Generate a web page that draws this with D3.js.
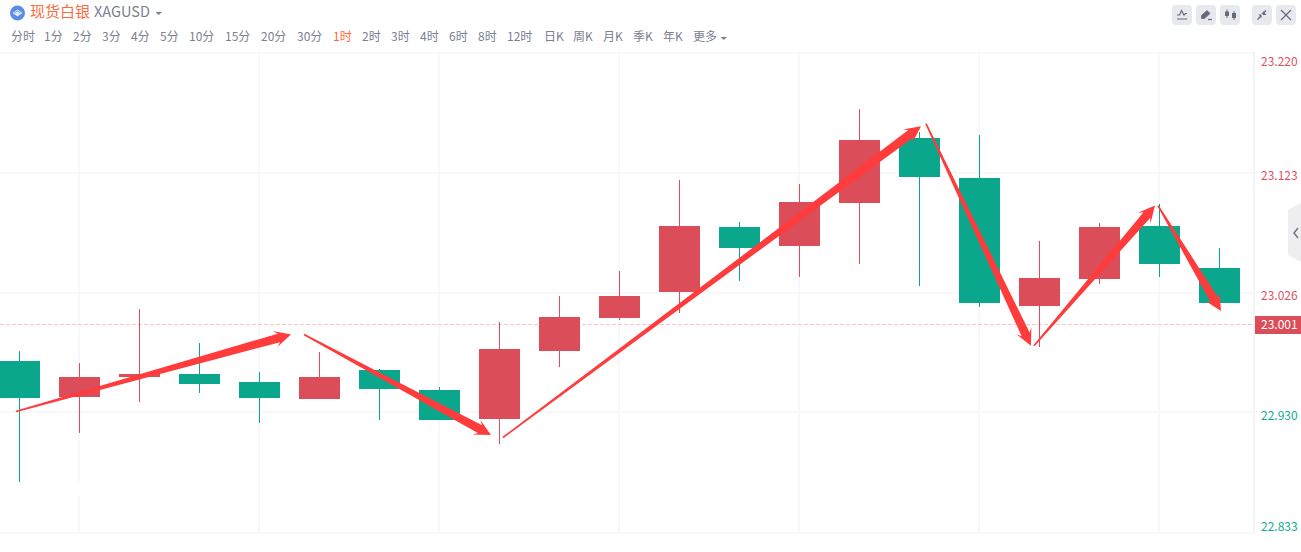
<!DOCTYPE html>
<html><head><meta charset="utf-8">
<script src="https://cdn.jsdelivr.net/npm/d3@7/dist/d3.min.js"></script>
<style>html,body{margin:0;padding:0;background:#fff;overflow:hidden}svg{display:block;font-family:"Noto Sans CJK SC","Noto Sans",sans-serif}</style>
</head><body><svg id="c" width="1301" height="552"></svg>
<script>
const periods=["分时","1分","2分","3分","4分","5分","10分","15分","20分","30分","1时","2时","3时","4时","6时","8时","12时","日K","周K","月K","季K","年K","更多"];
const periodX=[11,44,73,102,131,160,189,225,261,297,333,362,391,420,449,478,507,544,573,603,633,663,693];
const activePeriod="1时";
const priceTicks=[23.220,23.123,23.026,22.930,22.833];
const lastPrice=23.001;
const opens =[22.972,22.943,22.959,22.961,22.955,22.941,22.9645,22.948,22.925,22.980,23.006,23.027,23.080,23.064,23.099,23.1515,23.119,23.016,23.038,23.0805,23.047];
const closes=[22.942,22.959,22.961,22.953,22.942,22.959,22.949,22.924,22.981,23.007,23.024,23.0805,23.063,23.100,23.150,23.120,23.0185,23.0385,23.080,23.050,23.0185];
const highs =[22.980,22.970,23.014,22.986,22.963,22.979,22.965,22.951,23.003,23.024,23.044,23.118,23.084,23.114,23.175,23.156,23.154,23.0685,23.083,23.098,23.063];
const lows  =[22.874,22.9135,22.939,22.946,22.922,22.941,22.924,22.924,22.905,22.967,23.005,23.010,23.036,23.039,23.050,23.032,23.015,22.983,23.034,23.039,23.0185];
const gridIdx=[1,4,7,10,13,16,19];
const arrowFromI=[-0.06,4.742,8.058,15.108,16.908,18.975];
const arrowFromP=[22.931,22.993,22.910,23.163,22.984,23.097];
const arrowToI  =[4.525,7.858,15.025,16.858,18.925,20.025];
const arrowToP  =[22.993,22.912,23.161,22.984,23.097,23.012];

const RED="#db4d59",GREEN="#0aa78c",GRID="#f8f8fa",TXT="#7b8092",ARROW="#ff3b3b";
const svg=d3.select("#c");
const x=d3.scaleLinear().domain([0,1]).range([19.5,79.5]);
const y=d3.scaleLinear().domain([23.220,22.833]).range([53,533]);
const axisX=1254;

// grid
const g=svg.append("g").attr("shape-rendering","crispEdges").attr("stroke-width",2);
g.selectAll("line.h").data(priceTicks).join("line").attr("x1",0).attr("x2",axisX)
 .attr("y1",d=>Math.floor(y(d))).attr("y2",d=>Math.floor(y(d))).attr("stroke",GRID);
g.selectAll("line.v").data(gridIdx).join("line").attr("x1",d=>Math.floor(x(d))).attr("x2",d=>Math.floor(x(d)))
 .attr("y1",52).attr("y2",534).attr("stroke",GRID);
g.append("line").attr("x1",axisX).attr("x2",axisX).attr("y1",52).attr("y2",534).attr("stroke","#f4f4f6");
// blank band in the first vertical grid line
svg.append("rect").attr("x",x(1)-3).attr("width",6).attr("y",482).attr("height",14).attr("fill","#fff");
// last price line
svg.append("line").attr("x1",0).attr("x2",axisX).attr("y1",Math.floor(y(lastPrice))+.5).attr("y2",Math.floor(y(lastPrice))+.5)
 .attr("stroke","#fac3c9").attr("stroke-dasharray","4 2").attr("shape-rendering","crispEdges");

// candles
const idx=d3.range(opens.length);
const cg=svg.append("g").attr("shape-rendering","crispEdges");
const col=i=>closes[i]>=opens[i]?RED:GREEN;
cg.selectAll("line").data(idx).join("line").attr("x1",i=>x(i)).attr("x2",i=>x(i))
 .attr("y1",i=>y(highs[i])).attr("y2",i=>y(lows[i])).attr("stroke",col);
cg.selectAll("rect").data(idx).join("rect").attr("x",i=>x(i)-20.5).attr("width",41)
 .attr("y",i=>Math.round(y(Math.max(opens[i],closes[i]))))
 .attr("height",i=>Math.round(y(Math.min(opens[i],closes[i])))-Math.round(y(Math.max(opens[i],closes[i]))))
 .attr("fill",col);

// tapered arrows
function arrow(i){
  const x0=x(arrowFromI[i]),y0=y(arrowFromP[i]),x1=x(arrowToI[i]),y1=y(arrowToP[i]);
  const L=Math.hypot(x1-x0,y1-y0),ux=(x1-x0)/L,uy=(y1-y0)/L,nx=-uy,ny=ux;
  const pt=(a,b)=>[x1+ux*a+nx*b,y1+uy*a+ny*b];
  const tail=(b)=>[x0+nx*b,y0+ny*b];
  const head=16.5,hw=8.2,neck=12.5,sw=4.4,tw=0.8;
  return d3.line()([tail(tw),pt(-neck,sw),pt(-head,hw),[x1,y1],pt(-head,-hw),pt(-neck,-sw),tail(-tw)])+"Z";
}
svg.append("g").selectAll("path").data(d3.range(arrowFromI.length)).join("path").attr("d",arrow).attr("fill",ARROW);

// price axis
const axis=d3.axisRight(y).tickValues(priceTicks).tickSize(0).tickPadding(7).tickFormat(d3.format(".3f"));
const ag=svg.append("g").attr("transform",`translate(${axisX},0)`).call(axis);
ag.select(".domain").remove();
const dyAdj=[8,2,2,3,-7];
ag.selectAll(".tick text").attr("font-size",12).attr("font-family",'"Noto Sans CJK SC",sans-serif')
 .attr("fill",d=>d>lastPrice?"#e0505e":"#12ab8e").attr("dy",null)
 .attr("y",(d,i)=>dyAdj[i]+4);
svg.append("rect").attr("x",1255).attr("width",46).attr("y",316).attr("height",18).attr("fill",RED);
svg.append("text").attr("x",1261).attr("y",Math.floor(y(lastPrice))+5).attr("font-size",12).attr("fill","#fff").text(d3.format(".3f")(lastPrice));

// header
const logo=svg.append("g");
logo.append("circle").attr("cx",17.5).attr("cy",13).attr("r",7.5).attr("fill","#5b8de6");
logo.append("path").attr("d","M12.5 13L17.5 9.5L22.5 13L17.5 16.5Z").attr("fill","#dfe9fb");
logo.append("path").attr("d","M14.5 13L17.5 11L20.5 13").attr("fill","none").attr("stroke","#5b8de6").attr("stroke-width",.8);
svg.append("text").attr("x",30).attr("y",17).attr("font-size",15).attr("fill","#ff6a3c").text("现货白银");
svg.append("text").attr("x",94).attr("y",17).attr("font-size",14.5).attr("fill",TXT).text("XAGUSD");
svg.append("path").attr("d","M155.5 12H162L158.75 15Z").attr("fill",TXT);
svg.append("g").selectAll("text").data(periods).join("text").attr("x",(d,i)=>periodX[i]).attr("y",41)
 .attr("font-size",12).attr("fill",d=>d===activePeriod?"#ff6a3c":TXT).text(d=>d);
svg.append("path").attr("d","M720.5 37H727L723.75 40Z").attr("fill",TXT);

// toolbar
const btnX=[1172,1196,1220,1252,1276];
svg.append("g").selectAll("rect").data(btnX).join("rect").attr("x",d=>d).attr("y",5).attr("width",20).attr("height",20).attr("rx",4).attr("fill","#e7e9ef");
const ic="#646a7c";
const ico=svg.append("g").attr("fill","none").attr("stroke",ic);
ico.append("path").attr("d","M1177 15H1179.5L1181.5 10.5L1184 15L1185.5 13.5H1187M1177 19H1187").attr("stroke-width",1.2);
ico.append("path").attr("d","M1201.5 15.5L1207 10.5L1210 13.5L1204.5 18.5H1201.5Z").attr("fill",ic).attr("stroke-width",.8);
ico.append("path").attr("d","M1208 19.5H1212").attr("stroke-width",1.2);
ico.append("path").attr("d","M1227 9.5V18M1234 11V20").attr("stroke-width",1);
ico.append("path").attr("d","M1225 11.5H1229V16H1225ZM1232 13H1236V18H1232Z").attr("fill",ic).attr("stroke","none");
ico.append("path").attr("d","M1257.5 19.5L1261 16M1262 14L1266 10.5").attr("stroke-width",1.4);
ico.append("path").attr("d","M1258.5 14.5L1261.5 14.5L1261.5 18Z M1263 11L1263 15L1266.5 15Z").attr("fill",ic).attr("stroke","none");
ico.append("path").attr("d","M1281 10L1291 20M1291 10L1281 20").attr("stroke-width",1.2);

// side tab
svg.append("path").attr("d","M1301 203L1288 210V255L1301 262Z").attr("fill","#eeeef1");
svg.append("path").attr("d","M1298 228L1294 233L1298 238").attr("fill","none").attr("stroke","#6f7485").attr("stroke-width",1.5);
</script></body></html>
